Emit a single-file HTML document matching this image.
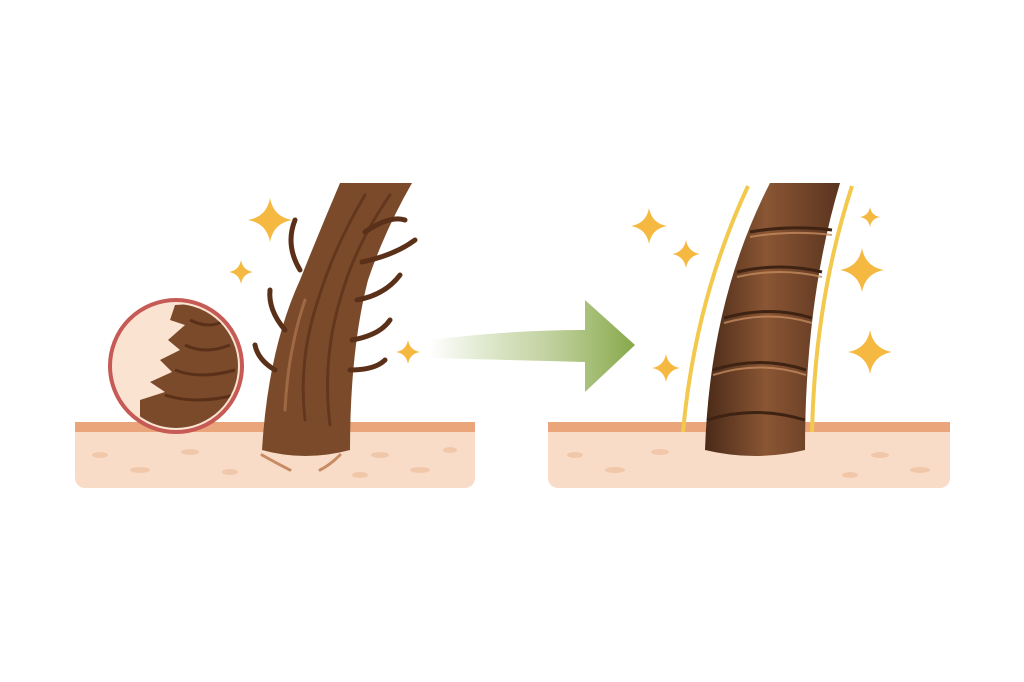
<!DOCTYPE html>
<html><head><meta charset="utf-8"><style>
html,body{margin:0;padding:0;background:#fff;width:1024px;height:682px;overflow:hidden}
</style></head><body>
<svg width="1024" height="682" viewBox="0 0 1024 682" xmlns="http://www.w3.org/2000/svg">
<defs>
<linearGradient id="ar" x1="0" x2="1" y1="0" y2="0">
<stop offset="0" stop-color="#8fae4e" stop-opacity="0"/>
<stop offset="0.55" stop-color="#9db766" stop-opacity="0.6"/>
<stop offset="1" stop-color="#86a84a"/>
</linearGradient>
<linearGradient id="hair2" x1="0" x2="1" y1="0" y2="0">
<stop offset="0" stop-color="#4a2a18"/>
<stop offset="0.45" stop-color="#8a5634"/>
<stop offset="1" stop-color="#5a341f"/>
</linearGradient>
<clipPath id="mag"><circle cx="176" cy="366" r="62"/></clipPath>
<g id="sp"><path d="M0,-20 Q3,-3 20,0 Q3,3 0,20 Q-3,3 -20,0 Q-3,-3 0,-20Z" fill="#f5b942"/></g>
</defs>
<g>
<rect x="75" y="424" width="400" height="64" rx="10" fill="#f8dcc7"/>
<rect x="75" y="422" width="400" height="10" fill="#eaa57a"/>
<g fill="#f0c3a4" opacity="0.8">
<ellipse cx="100" cy="455" rx="8" ry="3"/><ellipse cx="140" cy="470" rx="10" ry="3"/>
<ellipse cx="190" cy="452" rx="9" ry="3"/><ellipse cx="230" cy="472" rx="8" ry="3"/>
<ellipse cx="380" cy="455" rx="9" ry="3"/><ellipse cx="420" cy="470" rx="10" ry="3"/>
<ellipse cx="450" cy="450" rx="7" ry="3"/><ellipse cx="360" cy="475" rx="8" ry="3"/>
</g>
<rect x="548" y="424" width="402" height="64" rx="10" fill="#f8dcc7"/>
<rect x="548" y="422" width="402" height="10" fill="#eaa57a"/>
<g fill="#f0c3a4" opacity="0.8">
<ellipse cx="575" cy="455" rx="8" ry="3"/><ellipse cx="615" cy="470" rx="10" ry="3"/>
<ellipse cx="660" cy="452" rx="9" ry="3"/><ellipse cx="880" cy="455" rx="9" ry="3"/>
<ellipse cx="920" cy="470" rx="10" ry="3"/><ellipse cx="850" cy="475" rx="8" ry="3"/>
</g>
</g>
<g>
<path d="M262,450 Q268,350 300,280 Q320,230 340,183 L412,183 Q385,230 368,280 Q350,350 350,450 Q305,462 262,450Z" fill="#7b4a2b"/>
<g fill="none" stroke="#5a3019" stroke-width="5" stroke-linecap="round">
<path d="M300,270 Q285,245 295,220"/><path d="M365,232 Q390,215 405,220"/>
<path d="M362,262 Q395,255 415,240"/><path d="M357,300 Q385,295 400,275"/>
<path d="M352,340 Q380,335 390,320"/><path d="M285,330 Q268,310 270,290"/>
<path d="M275,370 Q258,360 255,345"/><path d="M350,370 Q375,370 385,360"/>
</g>
<g fill="none" stroke="#5a3019" stroke-width="3" stroke-linecap="round" opacity="0.7">
<path d="M305,420 Q298,360 318,300 Q335,245 365,195"/>
<path d="M330,425 Q322,360 340,300 Q355,245 390,195"/>
</g>
<g fill="none" stroke="#a8714a" stroke-width="3" stroke-linecap="round" opacity="0.8">
<path d="M285,410 Q288,350 305,300"/>
</g>
<g fill="none" stroke="#c78a63" stroke-width="3" stroke-linecap="round">
<path d="M262,455 Q280,465 290,470"/><path d="M340,455 Q330,465 320,470"/>
</g>
</g>
<circle cx="176" cy="366" r="66" fill="#fbe3d2" stroke="#c65a55" stroke-width="4"/>
<g clip-path="url(#mag)">
<path d="M175,305 L170,320 L185,325 L168,340 L180,350 L160,360 L172,372 L150,382 L165,392 L140,400 L140,440 L260,440 L260,300Z" fill="#7b4a2b"/>
<g fill="none" stroke="#5a3019" stroke-width="3">
<path d="M190,320 Q210,330 225,320"/><path d="M185,345 Q205,355 230,345"/>
<path d="M175,370 Q200,380 235,370"/><path d="M165,395 Q195,405 235,395"/>
</g>
</g>
<use href="#sp" transform="translate(270,220) scale(1.1)"/>
<use href="#sp" transform="translate(241,272) scale(0.6)"/>
<use href="#sp" transform="translate(408,352) scale(0.6)"/>
<path d="M430,340 Q510,330 585,330 L585,300 L635,345 L585,392 L585,362 Q510,360 430,358Z" fill="url(#ar)"/>
<g>
<path d="M683,432 Q695,300 748,186" fill="none" stroke="#f2c94c" stroke-width="4"/>
<path d="M812,432 Q815,300 852,186" fill="none" stroke="#f2c94c" stroke-width="4"/>
<path d="M705,450 Q710,300 770,183 L840,183 Q805,300 805,450 Q755,462 705,450Z" fill="url(#hair2)"/>
<g fill="none" stroke="#3e2212" stroke-width="3">
<path d="M750,232 Q790,225 832,230"/><path d="M737,272 Q780,262 822,272"/>
<path d="M724,318 Q770,305 812,318"/><path d="M713,370 Q760,355 806,370"/>
<path d="M707,420 Q755,405 805,420"/>
</g>
<g fill="none" stroke="#c48a5e" stroke-width="2" opacity="0.8">
<path d="M750,237 Q790,230 832,235"/><path d="M737,277 Q780,267 822,277"/>
<path d="M724,323 Q770,310 812,323"/><path d="M713,375 Q760,360 806,375"/>
</g>
</g>
<use href="#sp" transform="translate(649,226) scale(0.9)"/>
<use href="#sp" transform="translate(686,254) scale(0.7)"/>
<use href="#sp" transform="translate(666,368) scale(0.7)"/>
<use href="#sp" transform="translate(870,217) scale(0.5)"/>
<use href="#sp" transform="translate(862,270) scale(1.1)"/>
<use href="#sp" transform="translate(870,352) scale(1.1)"/>
</svg>
</body></html>
